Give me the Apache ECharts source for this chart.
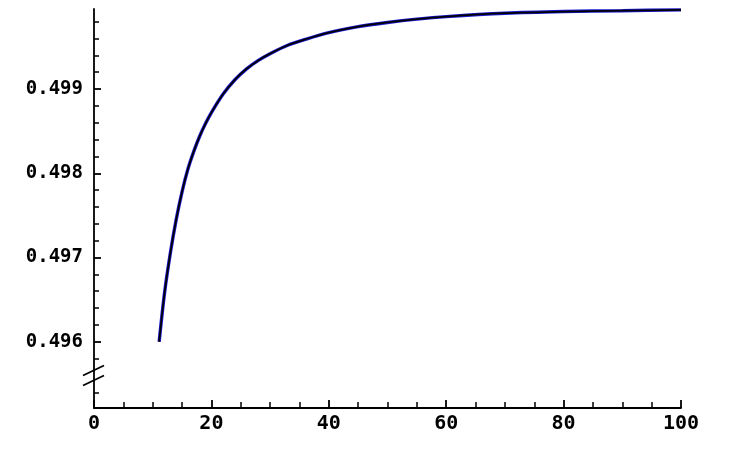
<!DOCTYPE html>
<html>
<head>
<meta charset="utf-8">
<script src="https://cdn.jsdelivr.net/npm/echarts@6/dist/echarts.min.js"></script>
<style>html,body{margin:0;padding:0;background:#fff}#c{width:738px;height:458px}</style>
</head>
<body>
<div id="c"></div>
<script>
// Data
var xValues = [11.1, 12, 13, 14, 15, 16, 17, 18, 19, 20, 22, 24, 26, 28, 30, 33, 36, 40, 45, 50, 55, 60, 70, 80, 90, 100];
var yValues = [0.49600, 0.49657, 0.49705, 0.49745, 0.49778, 0.49805, 0.49826, 0.49844, 0.49859, 0.49872, 0.49894, 0.49911, 0.49924, 0.49934, 0.49942, 0.49952, 0.49959, 0.49967, 0.49974, 0.49979, 0.49983, 0.49986, 0.49990, 0.49992, 0.49993, 0.49994];
var yMajorTicks = [0.496, 0.497, 0.498, 0.499];
var yMinorTicks = [0.4954, 0.4958, 0.4962, 0.4964, 0.4966, 0.4968, 0.4972, 0.4974, 0.4976, 0.4978, 0.4982, 0.4984, 0.4986, 0.4988, 0.4992, 0.4994, 0.4996, 0.4998];
var yBreakValue = 0.4956;
var xTickLabels = [0, 20, 40, 60, 80, 100];

var points = xValues.map(function (x, i) { return [x, yValues[i]]; });
var font = '"DejaVu Sans Mono", monospace';
var yMin = 0.495214, yMax = 0.49995;

var chart = echarts.init(document.getElementById('c'));
chart.setOption({
  animation: false,
  backgroundColor: '#fff',
  grid: { left: 94, right: 57, top: 9, bottom: 50, containLabel: false },
  xAxis: {
    type: 'value', min: 0, max: 100, interval: 20,
    axisLine: { show: true, lineStyle: { color: '#000', width: 1.8 } },
    axisTick: { show: true, inside: true, length: 8, lineStyle: { color: '#000', width: 1.8 } },
    minorTick: { show: true, splitNumber: 4, length: 6, lineStyle: { color: '#000', width: 1.5 } },
    splitLine: { show: false },
    axisLabel: { show: true, margin: 6, color: '#000', fontFamily: font, fontSize: 20, fontWeight: 'bold',
      customValues: xTickLabels }
  },
  yAxis: [{
    type: 'value', min: yMin, max: yMax, position: 'left',
    axisLine: { show: true, lineStyle: { color: '#000', width: 1.8 } },
    axisTick: { show: true, inside: true, length: 7, customValues: yMajorTicks, lineStyle: { color: '#000', width: 1.8 } },
    splitLine: { show: false },
    axisLabel: { show: true, margin: 11, color: '#000', fontFamily: font, fontSize: 19, fontWeight: 'bold',
      customValues: yMajorTicks, padding: [5, 0, 0, 0],
      formatter: function (v) { return v.toFixed(3); } }
  }, {
    type: 'value', min: yMin, max: yMax, position: 'left', offset: 0,
    axisLine: { show: false },
    axisTick: { show: true, inside: true, length: 5, customValues: yMinorTicks, lineStyle: { color: '#000', width: 1.5 } },
    splitLine: { show: false },
    axisLabel: { show: false }
  }],
  series: [{
    type: 'line', data: points, showSymbol: false, smooth: 0.3, yAxisIndex: 0,
    lineStyle: { color: '#1a1ad0', width: 3.4 }, z: 2
  }, {
    type: 'line', data: points, showSymbol: false, smooth: 0.3, yAxisIndex: 0,
    lineStyle: { color: '#000', width: 1.8 }, z: 3
  }]
});

var ax = chart.convertToPixel({ xAxisIndex: 0 }, 0);
var by = chart.convertToPixel({ yAxisIndex: 0 }, yBreakValue);
chart.setOption({
  graphic: [{
    type: 'group', x: ax, y: by, z: 100,
    children: [
      { type: 'rect', shape: { x: -3, y: -5, width: 6, height: 10 }, style: { fill: '#fff' } },
      { type: 'line', shape: { x1: -11, y1: 0, x2: 10, y2: -10 }, style: { stroke: '#000', lineWidth: 1.8 } },
      { type: 'line', shape: { x1: -11, y1: 10, x2: 10, y2: 0 }, style: { stroke: '#000', lineWidth: 1.8 } }
    ]
  }]
});
</script>
</body>
</html>
